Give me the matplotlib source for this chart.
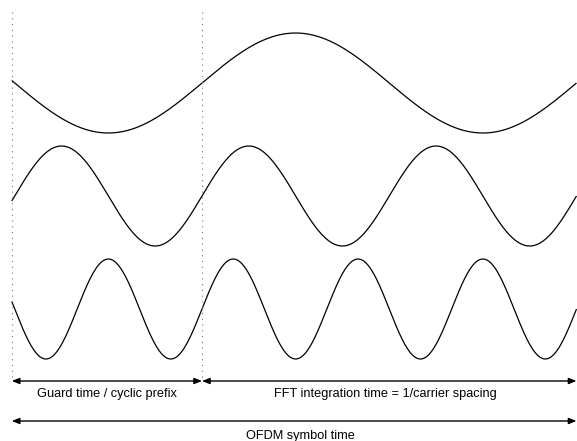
import numpy as np
import matplotlib
matplotlib.use("Agg")
import matplotlib.pyplot as plt
from matplotlib.patches import FancyArrowPatch

# ---- diagram data ----
cycles = [1, 2, 3]                 # subcarrier cycles per FFT integration time
guard_fraction = 0.508             # guard time relative to FFT integration time
fft_time = 1.0
labels_row1 = ["Guard time / cyclic prefix", "FFT integration time = 1/carrier spacing"]
label_row2 = "OFDM symbol time"

# ---- layout (pixels on a 577x441 canvas) ----
W, H = 577, 441
x0_px, tfft_px = 202.0, 374.5      # t=0 position and px per unit time
wave_centers = [83, 196, 309]
wave_amp = 50
dot_top, dot_bot = 12, 381
arrow1_y, arrow2_y = 381, 421
text1_y, text2_y = 394.5, 436

plt.rcParams['font.family'] = ['Liberation Sans', 'DejaVu Sans']
fig = plt.figure(figsize=(W / 100, H / 100), dpi=100)
ax = fig.add_axes([0, 0, 1, 1])
ax.set_xlim(-x0_px / tfft_px, (W - x0_px) / tfft_px)
ax.set_ylim(H, 0)
ax.axis('off')

t = np.linspace(-guard_fraction, fft_time, 1500)
for k, yc in zip(cycles, wave_centers):
    ax.plot(t, yc - wave_amp * np.sin(2 * np.pi * k * t / fft_time),
            color='black', lw=0.9, solid_capstyle='butt')

for xv in (-guard_fraction, 0.0):
    ax.plot([xv, xv], [dot_top, dot_bot], color='#777777', lw=0.8,
            linestyle=(0, (1, 4.2)))

def arrow(xa, xb, y):
    p = FancyArrowPatch((xa, y), (xb, y),
                        arrowstyle='<|-|>,head_length=0.45,head_width=0.18',
                        mutation_scale=10, color='black', lw=1.0,
                        shrinkA=0, shrinkB=0)
    ax.add_patch(p)

arrow(-guard_fraction, 0.0, arrow1_y)
arrow(0.0, fft_time, arrow1_y)
arrow(-guard_fraction, fft_time, arrow2_y)

fs = 9.2
ax.text(-guard_fraction / 2, text1_y, labels_row1[0], ha='center', va='center', fontsize=fs)
ax.text(fft_time / 2 * 0.98, text1_y, labels_row1[1], ha='center', va='center', fontsize=fs)
ax.text((fft_time - guard_fraction) / 2 * 1.07, text2_y, label_row2, ha='center', va='center', fontsize=fs)

fig.savefig('out.png', dpi=100)
